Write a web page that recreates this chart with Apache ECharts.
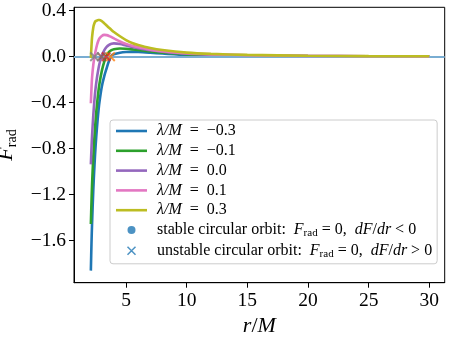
<!DOCTYPE html>
<html><head><meta charset="utf-8">
<script src="https://cdn.jsdelivr.net/npm/echarts@6/dist/echarts.min.js"></script>
<style>html,body{margin:0;padding:0;background:#fff}#c{width:449px;height:338px}</style>
</head><body><div id="c"></div>
<script>
// r/M sample positions
const r = [2.1, 2.15, 2.2, 2.3, 2.4, 2.5, 2.6, 2.7, 2.8, 3.0, 3.2, 3.4, 3.6, 3.8, 4.0, 4.5, 5.0, 5.5, 6, 7, 8, 10, 12, 15, 20, 25, 30];
const lambdaLabels = ['−0.3', '−0.1', '0.0', '0.1', '0.3'];
const fNeg03 = [-1.86, -1.63, -1.45, -1.16, -0.94, -0.76, -0.62, -0.50, -0.40, -0.26, -0.17, -0.10, -0.035, 0.01, 0.022, 0.035, 0.041, 0.042, 0.041, 0.035, 0.028, 0.016, 0.011, 0.0075, 0.0043, 0.0028, 0.0019];
const fNeg01 = [-1.455, -1.27, -1.11, -0.87, -0.69, -0.54, -0.42, -0.32, -0.24, -0.125, -0.045, 0.012, 0.042, 0.058, 0.066, 0.072, 0.069, 0.064, 0.058, 0.046, 0.036, 0.021, 0.015, 0.0095, 0.0054, 0.0035, 0.0024];
const f00 = [-0.936, -0.80, -0.685, -0.51, -0.37, -0.265, -0.185, -0.12, -0.065, 0.01, 0.055, 0.085, 0.103, 0.113, 0.116, 0.111, 0.098, 0.086, 0.075, 0.057, 0.044, 0.026, 0.018, 0.0115, 0.0065, 0.0042, 0.0029];
const fPos01 = [-0.405, -0.28, -0.18, -0.07, 0.0, 0.055, 0.10, 0.135, 0.158, 0.181, 0.19, 0.188, 0.181, 0.171, 0.16, 0.133, 0.112, 0.095, 0.082, 0.062, 0.048, 0.030, 0.021, 0.0135, 0.0075, 0.0048, 0.0033];
const fPos03 = [-0.01, 0.09, 0.17, 0.255, 0.293, 0.311, 0.315, 0.319, 0.319, 0.31, 0.292, 0.272, 0.252, 0.233, 0.215, 0.178, 0.145, 0.12, 0.102, 0.076, 0.058, 0.036, 0.025, 0.016, 0.009, 0.0058, 0.004];
const curves = [fNeg03, fNeg01, f00, fPos01, fPos03];
const curveColors = ['#1f77b4', '#2ca02c', '#9467bd', '#e377c2', '#bcbd22'];
// unstable circular orbits (F=0, dF/dr>0)
const unstableR = [3.72, 3.36, 2.97, 2.4];
const unstableF = [0, 0, 0, 0];
const unstableColors = ['#ff7f0e', '#d62728', '#8c564b', '#7f7f7f'];
const xTicks = [5, 10, 15, 20, 25, 30];
const yTicks = [-1.6, -1.2, -0.8, -0.4, 0.0, 0.4];

const SERIF = 'Liberation Serif';
const stableName = 'stable circular orbit';
const unstableName = 'unstable circular orbit';
const xPath = 'path://M0,0L10,10M10,0L0,10';

const series = [];
series.push({
  name: 'axh', type: 'line', data: [], z: 1, silent: true,
  markLine: { silent: true, symbol: 'none', label: { show: false },
    lineStyle: { color: '#79add2', width: 1.8, type: 'solid' },
    data: [{ yAxis: 0 }] }
});
curves.forEach((vals, i) => {
  series.push({
    name: 'λ/M = ' + lambdaLabels[i], type: 'line', smooth: 0.3, symbol: 'none', z: 2 + i,
    data: r.map((x, k) => [x, vals[k]]),
    lineStyle: { color: curveColors[i], width: 2.6 }, itemStyle: { color: curveColors[i] }
  });
});
series.push({ name: stableName, type: 'scatter', data: [], symbol: 'circle', symbolSize: 8, itemStyle: { color: '#1f77b4' } });
series.push({
  name: unstableName, type: 'scatter', symbol: xPath, symbolSize: 8.5, z: 10,
  data: unstableR.map((x, k) => ({ value: [x, unstableF[k]], itemStyle: { color: 'rgba(0,0,0,0)', borderColor: unstableColors[k], borderWidth: 1.9 } })),
  itemStyle: { color: 'rgba(0,0,0,0)', borderColor: '#1f77b4', borderWidth: 1.9 }
});

const legendNames = curves.map((_, i) => 'λ/M = ' + lambdaLabels[i]);
const legendData = legendNames.map(n => ({ name: n, itemStyle: { opacity: 0 }, lineStyle: { width: 2.6 } }));
legendData.push({ name: stableName, icon: 'circle' });
legendData.push({ name: unstableName, icon: xPath, itemStyle: { color: 'rgba(0,0,0,0)', borderColor: '#1f77b4', borderWidth: 1.5 } });

function legendFmt(name) {
  if (name === stableName) return '{rm|stable circular orbit:  }{it|F}{sub|rad}{rm| = 0,  }{it|dF}{rm|/}{it|dr}{rm| < 0}';
  if (name === unstableName) return '{rm|unstable circular orbit:  }{it|F}{sub|rad}{rm| = 0,  }{it|dF}{rm|/}{it|dr}{rm| > 0}';
  const v = name.replace('λ/M = ', '');
  return '{it|λ/M}{rm|  =  ' + v + '}';
}

const chart = echarts.init(document.getElementById('c'), null, { renderer: 'canvas' });
chart.setOption({
  animation: false,
  backgroundColor: '#fff',
  grid: { left: 74, right: 4.3, top: 7.3, bottom: 55.3, outerBoundsMode: 'none', containLabel: false,
    show: true, borderColor: '#000', borderWidth: 1, backgroundColor: 'transparent' },
  xAxis: {
    type: 'value', min: 0.71, max: 31.27,
    name: '{it|r}{rm|/}{it|M}', nameLocation: 'middle', nameGap: 27,
    nameTextStyle: { rich: { it: { fontFamily: SERIF, fontStyle: 'italic', fontSize: 22, color: '#000' }, rm: { fontFamily: SERIF, fontSize: 22, color: '#000' } } },
    splitLine: { show: false },
    axisLine: { show: true, onZero: false, lineStyle: { color: '#000', width: 1 } },
    axisTick: { show: true, inside: false, length: 5, customValues: xTicks, lineStyle: { color: '#000' } },
    axisLabel: { customValues: xTicks, margin: 8, fontFamily: SERIF, fontSize: 19.5, color: '#000' }
  },
  yAxis: {
    type: 'value', min: -1.965, max: 0.43,
    name: '{it|F}{sub|rad}', nameLocation: 'middle', nameGap: 47, nameRotate: 90,
    nameTextStyle: { rich: {
      it: { fontFamily: SERIF, fontStyle: 'italic', fontSize: 22, color: '#000', lineHeight: 28 },
      sub: { fontFamily: SERIF, fontSize: 14, color: '#000', lineHeight: 14, verticalAlign: 'bottom' } } },
    splitLine: { show: false },
    axisLine: { show: true, onZero: false, lineStyle: { color: '#000', width: 1 } },
    axisTick: { show: true, inside: false, length: 5, customValues: yTicks, lineStyle: { color: '#000' } },
    axisLabel: { customValues: yTicks, margin: 8, fontFamily: SERIF, fontSize: 19.5, color: '#000',
      formatter: v => v.toFixed(1).replace('-', '−') }
  },
  legend: {
    orient: 'vertical', left: 110, top: 120, data: legendData,
    itemWidth: 31, itemHeight: 8, itemGap: 3.8,
    padding: [3, 5, 4, 4.7],
    borderColor: '#cccccc', borderWidth: 1, borderRadius: 3, backgroundColor: 'rgba(255,255,255,0.8)',
    selectedMode: false,
    formatter: legendFmt,
    textStyle: {
      padding: [0, 0, 0, 5],
      rich: {
        rm: { fontFamily: SERIF, fontSize: 16, color: '#000', lineHeight: 18 },
        it: { fontFamily: SERIF, fontStyle: 'italic', fontSize: 16, color: '#000', lineHeight: 18 },
        sub: { fontFamily: SERIF, fontSize: 11, color: '#000', lineHeight: 11, verticalAlign: 'bottom' }
      }
    }
  },
  series: series
});
</script>
</body></html>
